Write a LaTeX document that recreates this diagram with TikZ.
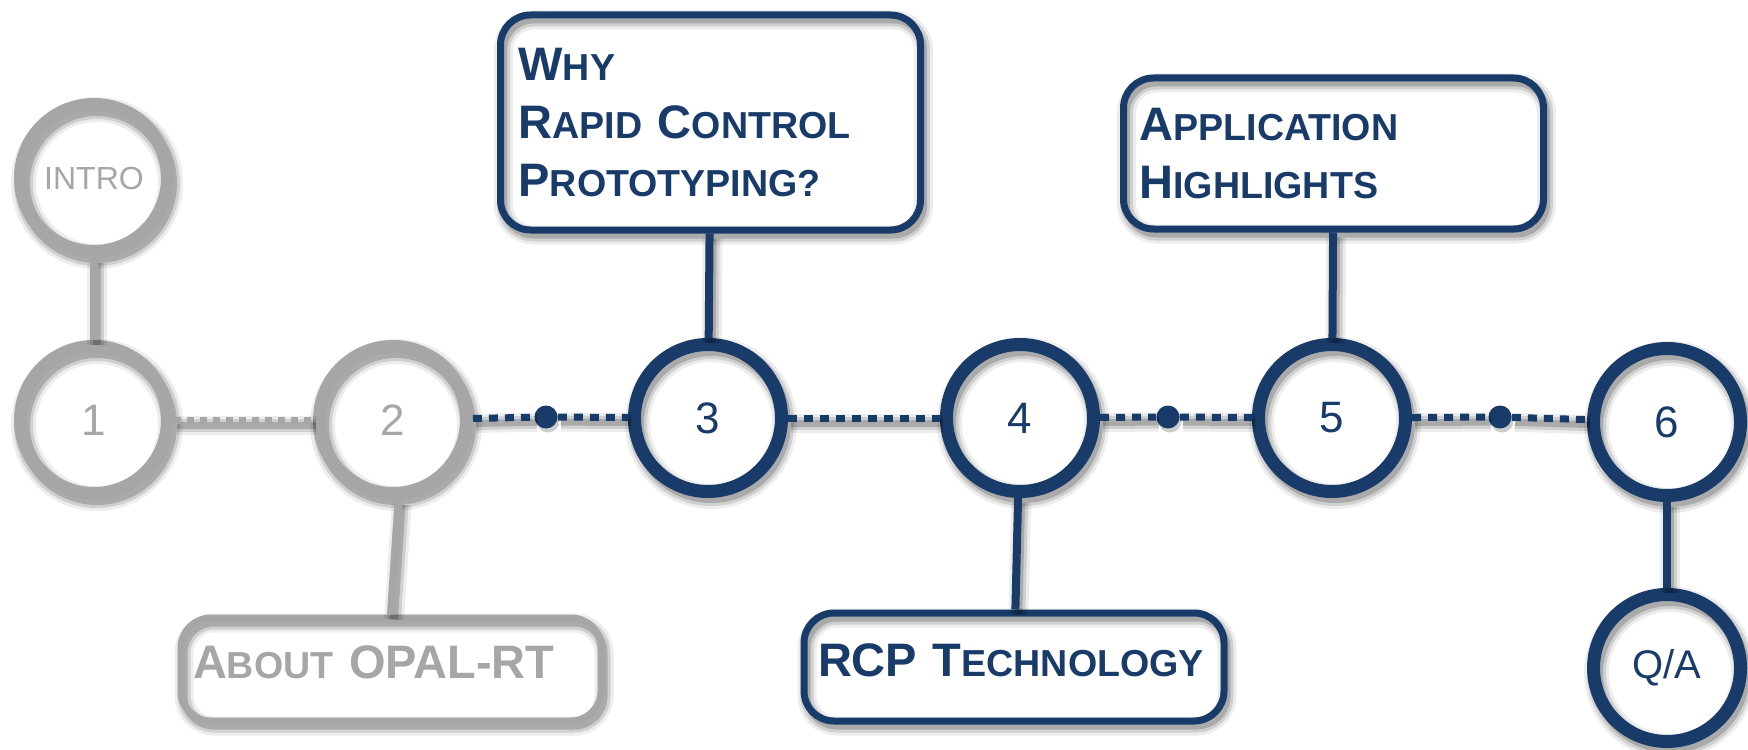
\documentclass[tikz,border=0pt]{standalone}
\usepackage{fontspec}
\setmainfont{Liberation Sans}

\definecolor{navy}{RGB}{24,59,106}
\definecolor{lgray}{RGB}{166,166,166}

% smaller capitals after the first letter
\newcommand{\smallcap}[1]{{\fontsize{18.8pt}{29pt}\selectfont #1}}

\tikzset{
  softshadow/.style={
    preaction={draw=black,draw opacity=.07,line width=#1+6pt,transform canvas={shift={(1.5pt,-2.5pt)}}},
    preaction={draw=black,draw opacity=.12,line width=#1+3pt,transform canvas={shift={(1.5pt,-2.5pt)}}},
    preaction={draw=black,draw opacity=.18,line width=#1,transform canvas={shift={(1.5pt,-2.5pt)}}}},
  station/.style={circle,draw=#1,text=#1,line width=6.5pt,minimum size=73.5pt,inner sep=0pt,
    font=\fontsize{22pt}{26pt}\selectfont,softshadow=6.5pt},
  topic/.style={rounded corners=15pt,draw=#1,text=#1,line width=3.5pt,align=left,
    inner xsep=9pt,text width=192pt,font=\fontsize{23.5pt}{29pt}\selectfont\bfseries,
    softshadow=3.5pt},
  link/.style={draw=#1,line width=4pt,softshadow=4pt},
  trail/.style={draw=#1,line width=3.5pt,dash pattern=on 4.5pt off 3.5pt,softshadow=3.5pt},
  waypt/.style={circle,fill=navy,minimum size=11.5pt,inner sep=0pt,
    preaction={fill=black,fill opacity=.2,transform canvas={shift={(1pt,-2pt)}}}}
}

\begin{document}
\begin{tikzpicture}[x=0.5pt,y=-0.5pt]
\useasboundingbox (0,0) rectangle (1748,749);

% stations
\node[station=lgray,font=\fontsize{16pt}{19pt}\selectfont] (intro) at (94,178) {INTRO};
\node[station=lgray] (c1) at (94,420) {1};
\node[station=lgray] (c2) at (393,420) {2};
\node[station=navy] (c3) at (708,418) {3};
\node[station=navy] (c4) at (1020,418) {4};
\node[station=navy] (c5) at (1332,418) {5};
\node[station=navy] (c6) at (1667,422) {6};
\node[station=navy,font=\fontsize{20pt}{24pt}\selectfont] (qa) at (1667,668) {Q/A};

\node[waypt] (d1) at (546,417) {};
\node[waypt] (d2) at (1168,417) {};
\node[waypt] (d3) at (1500,417) {};

% topics
\node[topic=navy,minimum height=107.5pt] (b3) at (710.5,122.5)
  {W\smallcap{HY}\\R\smallcap{APID} C\smallcap{ONTROL}\\P\smallcap{ROTOTYPING?}};
\node[topic=navy,minimum height=75.5pt,inner xsep=8pt,text width=194pt] (b5) at (1333.5,153.5)
  {A\smallcap{PPLICATION}\\H\smallcap{IGHLIGHTS}};
\node[topic=lgray,minimum height=51.5pt,inner xsep=6pt,text width=198pt,text depth=7pt] (b2) at (391,669.5)
  {A\smallcap{BOUT} OPAL-RT};
\node[topic=navy,minimum height=54pt,inner xsep=7pt,text width=196pt,text depth=7pt] (b4) at (1014,667)
  {RCP T\smallcap{ECHNOLOGY}};

% line
\draw[link=lgray] (intro) -- (c1);
\draw[trail=lgray,dash pattern=on 3.5pt off 3pt] (c1) -- (c2);
\draw[trail=navy] (c2) -- (d1) -- (c3);
\draw[trail=navy] (c3) -- (c4);
\draw[trail=navy] (c4) -- (d2) -- (c5);
\draw[trail=navy] (c5) -- (d3) -- (c6);
\draw[link=navy] (c6) -- (qa);

% branches
\draw[link=lgray] (c2.-86) -- (b2.north);
\draw[link=navy] (c3) -- (b3);
\draw[link=navy] (c4) -- (b4);
\draw[link=navy] (c5) -- (b5);
\end{tikzpicture}
\end{document}
